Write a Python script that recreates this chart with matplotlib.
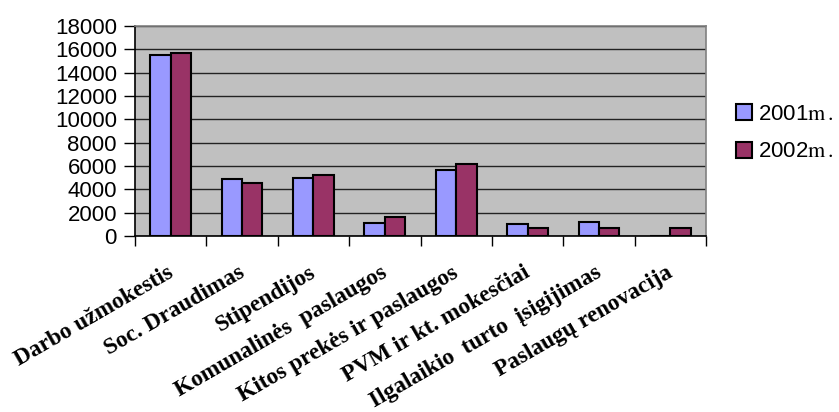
import numpy as np
import matplotlib.pyplot as plt
import matplotlib.transforms as mtransforms

categories = ['Darbo užmokestis', 'Soc. Draudimas', 'Stipendijos',
              'Komunalinės  paslaugos', 'Kitos prekės ir paslaugos',
              'PVM ir kt. mokesčiai', 'Ilgalaikio  turto  įsigijimas',
              'Paslaugų renovacija']
values_2001 = [15500, 4900, 5000, 1150, 5700, 1000, 1200, 0]
values_2002 = [15700, 4550, 5200, 1650, 6200, 700, 700, 700]
yticks = [0, 2000, 4000, 6000, 8000, 10000, 12000, 14000, 16000, 18000]

plt.rcParams['mathtext.fontset'] = 'stix'

fig = plt.figure(figsize=(8.39, 4.12), dpi=100)
ax = fig.add_axes([135 / 839, 1 - 236 / 412, 571 / 839, 210 / 412])
ax.set_facecolor('#C0C0C0')

x = np.arange(len(categories))
w = 0.2857
b1 = ax.bar(x - w / 2, values_2001, w, color='#9999FF', edgecolor='black', linewidth=1.5,
            label='2001$\\mathrm{m\\,.}$', zorder=3)
b2 = ax.bar(x + w / 2, values_2002, w, color='#993366', edgecolor='black', linewidth=1.5,
            label='2002$\\mathrm{m\\,.}$', zorder=3)

ax.set_xlim(-0.5, len(categories) - 0.5)
ax.set_ylim(0, 18000)
ax.set_yticks(yticks)
ax.set_yticklabels([str(v) for v in yticks], family='Liberation Sans', fontsize=16)
ax.yaxis.grid(True, color='#222222', linewidth=1.0, zorder=1)
ax.set_axisbelow(True)

# x ticks at category boundaries, labels at centres
ax.set_xticks(np.arange(-0.5, len(categories)), minor=False)
ax.set_xticklabels([])
ax.set_xticks(x, minor=True)
ax.set_xticklabels(categories, minor=True, rotation=30, ha='right',
                   family='Liberation Serif', fontweight='bold', fontsize=16.8)
ax.tick_params(axis='x', which='minor', length=0, pad=19)
offset = mtransforms.ScaledTranslation(6 / 100, 0, fig.dpi_scale_trans)
for lbl in ax.get_xticklabels(minor=True):
    lbl.set_transform(lbl.get_transform() + offset)
ax.tick_params(axis='x', which='major', length=7, width=1, direction='out')
ax.tick_params(axis='y', length=8, width=1, direction='out', pad=5)

for s in ['top', 'right']:
    ax.spines[s].set_color('#808080')
    ax.spines[s].set_linewidth(1.2)
for s in ['left', 'bottom']:
    ax.spines[s].set_color('black')
    ax.spines[s].set_linewidth(1.2)

leg = ax.legend(loc='center left', bbox_to_anchor=(0.864, 0.677),
                bbox_transform=fig.transFigure, frameon=False,
                prop={'family': 'Liberation Sans', 'size': 16},
                handlelength=0.72, handleheight=0.72, handletextpad=0.25,
                labelspacing=0.75, borderpad=0)

fig.savefig('out.png', dpi=100)
